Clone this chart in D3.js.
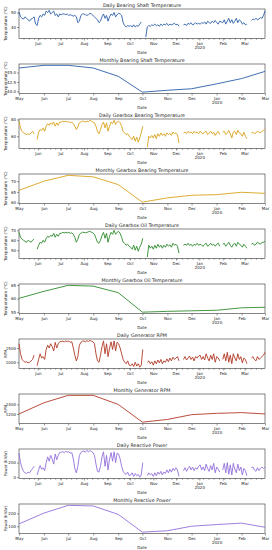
<!DOCTYPE html>
<html>
<head>
<meta charset="utf-8">
<script src="https://cdn.jsdelivr.net/npm/d3@7"></script>
<style>
  body { margin: 0; background: #fff; }
  text { font-family: "DejaVu Sans", sans-serif; fill: #222; }
</style>
</head>
<body>
<div id="chart"></div>
<script>
// daily readings, one value every 2nd day from 2019-05-07 (null = no data)
const dailyStart = "2019-05-07";

const shaftDaily = [
  50.5, 47, 46, 45.5, 47, 46, 45, 44, 45.5, 46, 47, 42, 41,                  // May
  46, 48, 47, 49, 48, 51, 50, 51.5, 49, 50, 51, 48, 49, 47, 49,              // Jun
  48.5, 49, 49, 48.5, 49, 48, 48.5, 48, 47.5, 48, 47, 43, 44, 48, 49,        // Jul
  49, 48.5, 48, 48.5, 49.5, 49, 48, 47, 46, 45, 43, 44, 47, 49, 46, 48,      // Aug
  44, 47, 49, 48, 50, 47, 48.5, 49.5, 49, 48, 43, 41, 40, 41, 40.5,          // Sep
  41, 40, 41.5, 40, 41, 40.5, 42, 43.5, null, null, 33, 40, 41, 40.5, 41.5,  // Oct
  41, 42, 41, 41.5, 40.5, 42, 41, 42, 41.5, 42.5, 41, 42, 41.5, 42, 42.5,    // Nov
  41.5, 42, 40.5, null, null, 41.5, 42, 41, 42.5, 42, 43, 41.5, 42, 43, 42, 42.5, // Dec
  42, 43, 42.5, 43.5, 42, 44, 43, 42.5, 44, 43, 44.5, 43, 42, 44, 43.5,      // Jan
  43, 45, 42, 44, 46, 43, 45, 42.5, 44, 46, 43, 45, 44, 42, 43,              // Feb
  41.5, 42, null, null, 44.5, 45.5, 45, 46, 45, 45.5, 46.5, 46, 48, 51       // Mar
];
const gearBearingDaily = [
  78, 70, 66, 64, 63, 62, 63, 62, 64, 66, 63, null, 56,
  65, 68, 67, 70, 66, 72, 75, 73, 76, 74, 77, 72, 76, 73, 77,
  77, 78, 77.5, 78, 77, 77.5, 76, 77, 75, 72, 68, 71, 76, 77, 78,
  78, 77, 78, 77.5, 79, 78, 77, 76, 72, 66, 63, 68, 74, 77, 70, 76,
  66, 72, 77, 75, 79, 74, 77, 78, 76, 72, 66, 64, 62, 63, 60,
  58, 56, 60, 54, 59, 53, 58, 64, 72, null, null, 47, 60, 58, 61,
  58, 62, 57, 63, 60, 64, 61, 63, 60, 64, 62, 63.5, 61, 65, 63,
  64, 62, 52, null, null, 64, 65, 63, 66, 64, 65, 63, 66, 64, 65, 63,
  66, 64, 63, 65, 66, 62, 64, 66, 63, 65, 61, 64, 66, 62, null,
  65, 66, 62, 64, 67, 63, 58, 65, 66, 62, 67, 64, 63, 60, 65,
  60, 57, null, null, 64, 65, 63, 64, 66, 65, 64, 66, 67, 68
];
const gearOilDaily = [
  68, 63, 61, 60, 59, 58, 60, 59, 58, 60, 61, null, 51,
  55, 58, 57, 60, 58, 62, 64, 63, 65, 64, 67, 63, 66, 64, 67,
  67, 68, 67.5, 68, 67.5, 68, 67, 67.5, 66, 63, 58, 61, 66, 67, 68,
  68, 67.5, 68, 68.5, 69, 68, 67.5, 66, 62, 58, 57, 60, 65, 68, 62, 67,
  58, 64, 68, 66, 70, 66, 68, 69, 67, 63, 58, 57, 55, 56, 54,
  53, 51, 55, 50, 54, 49, 53, 56, 62, null, null, 43, 55, 52, 54,
  51, 55, 52, 56, 53, 55, 52, 55, 53, 56, 54, 55.5, 53, 57, 55,
  56, 54, 47, null, null, 55, 56, 55, 57, 55, 56, 54, 56, 55, 57, 55,
  56, 55, 54, 56, 57, 54, 55, 57, 55, 56, 54, 56, 57, 54, null,
  56, 57, 54, 56, 58, 55, 53, 56, 57, 54, 58, 56, 55, 53, 56,
  54, 52, null, null, 56, 57, 55, 56, 58, 57, 56, 58, 58, 59
];
const rpmDaily = [
  1650, 1300, 1100, 1050, 1000, 1020, 980, 1000, 1050, 1100, 1250, null, 880,
  1100, 1300, 1150, 1200, 1100, 1450, 1600, 1500, 1650, 1550, 1400, 1700, 1500, 1650, 1720,
  1730, 1740, 1720, 1750, 1730, 1740, 1700, 1720, 1500, 1250, 1050, 1200, 1600, 1700, 1740,
  1750, 1720, 1760, 1730, 1770, 1740, 1720, 1650, 1300, 1050, 1000, 1250, 1550, 1750, 1300, 1650,
  1200, 1500, 1720, 1450, 1750, 1400, 1700, 1650, 1500, 1300, 1100, 1000, 950, 1050, 900,
  880, 950, 850, 1000, 870, 950, 830, 900, 1450, null, null, 1000, 1050, 950, 1020,
  900, 1050, 950, 1080, 980, 1100, 950, 1050, 1000, 1120, 1020, 1150, 1050, 1180, 1100,
  1150, 1200, 1050, null, null, 1100, 1200, 1080, 1150, 1220, 1100, 1180, 1050, 1200, 1150, 1220,
  1250, 1100, 1200, 1080, 1300, 1150, 1050, 1250, 1100, 1300, 1000, 1200, 1150, 1050, null,
  1100, 1300, 1050, 1350, 1000, 1250, 950, 1300, 1150, 1050, 1300, 1100, 1200, 980, 1150,
  1100, 950, null, null, 1150, 1200, 1100, 1050, 1200, 1100, 1150, 1200, 1250, 1350
];
const reactiveDaily = [
  330, 200, 130, 80, 60, 50, 70, 60, 90, 120, 150, null, 30,
  100, 160, 110, 130, 90, 200, 280, 220, 300, 250, 180, 320, 240, 300, 340,
  345, 350, 340, 355, 345, 350, 330, 340, 250, 120, 60, 150, 300, 340, 355,
  360, 345, 370, 350, 365, 355, 340, 300, 180, 80, 70, 150, 280, 350, 150, 300,
  100, 250, 340, 220, 350, 200, 330, 320, 250, 150, 80, 50, 40, 70, 20,
  30, 60, 10, 50, 20, 40, 0, 30, 200, null, null, 20, 60, 30, 50,
  10, 60, 20, 70, 40, 80, 30, 70, 50, 100, 60, 110, 70, 120, 90,
  130, 100, 10, null, null, 90, 130, 80, 120, 150, 100, 140, 90, 130, 110, 150,
  170, 100, 140, 90, 180, 120, 80, 160, 100, 190, 60, 140, 110, 70, null,
  100, 190, 60, 200, 40, 170, 30, 190, 110, 60, 180, 90, 140, 30, 120,
  90, 20, null, null, 130, 140, 100, 80, 130, 90, 120, 140, 120, 140
];

// monthly means
const months = ["2019-05-01", "2019-06-01", "2019-07-01", "2019-08-01", "2019-09-01", "2019-10-01",
                "2019-11-01", "2019-12-01", "2020-01-01", "2020-02-01", "2020-03-01"];
const shaftMonthly = [46.2, 46.9, 46.9, 46.2, 44.0, 39.8, 40.3, 40.7, 42.0, 43.4, 45.3];
const gearBearingMonthly = [65.7, 70.0, 72.7, 72.0, 68.4, 60.2, 62.2, 63.4, 63.7, 64.8, 64.3];
const gearOilMonthly = [60.1, 62.7, 64.9, 64.6, 62.2, 55.0, 55.3, 55.5, 55.7, 56.6, 56.8];
const rpmMonthly = [1200, 1435, 1590, 1590, 1400, 1028, 1085, 1185, 1213, 1228, 1200];
const reactiveMonthly = [118, 202, 262, 257, 192, 54, 65, 100, 113, 124, 92];

// y tick labels per panel
const yTicks = [[40, 50], [40.0, 42.5, 45.0], [60, 80], [60, 65, 70], [50, 60, 70],
                [55, 60, 65], [1000, 1500], [1200, 1400], [0, 200], [100, 200]];

const parse = d3.timeParse("%Y-%m-%d");
const startDate = parse(dailyStart);
const monthDates = months.map(parse);

const panels = [
  { title: "Daily Bearing Shaft Temperature", values: shaftDaily, daily: true, ylabel: "Temperature (°C)", color: "#2b5fa8" },
  { title: "Monthly Bearing Shaft Temperature", values: shaftMonthly, daily: false, ylabel: "Temperature (°C)", color: "#2b5fa8", fmt: ".1f" },
  { title: "Daily Gearbox Bearing Temperature", values: gearBearingDaily, daily: true, ylabel: "Temperature (°C)", color: "#d9a21b" },
  { title: "Monthly Gearbox Bearing Temperature", values: gearBearingMonthly, daily: false, ylabel: "Temperature (°C)", color: "#d9a21b" },
  { title: "Daily Gearbox Oil Temperature", values: gearOilDaily, daily: true, ylabel: "Temperature (°C)", color: "#2e8b2e" },
  { title: "Monthly Gearbox Oil Temperature", values: gearOilMonthly, daily: false, ylabel: "Temperature (°C)", color: "#2e8b2e" },
  { title: "Daily Generator RPM", values: rpmDaily, daily: true, ylabel: "RPM", color: "#b23a26" },
  { title: "Monthly Generator RPM", values: rpmMonthly, daily: false, ylabel: "RPM", color: "#b23a26" },
  { title: "Daily Reactive Power", values: reactiveDaily, daily: true, ylabel: "Power (kVAr)", color: "#9370db" },
  { title: "Monthly Reactive Power", values: reactiveMonthly, daily: false, ylabel: "Power (kVAr)", color: "#9370db" }
];

const W = 272, H = 550;
const left = 19, right = 265, top0 = 9, step = 55, ph = 29.5;

const svg = d3.select("#chart").append("svg")
  .attr("width", W).attr("height", H);

const fmtMonth = d3.timeFormat("%b");

panels.forEach((p, k) => {
  const top = top0 + k * step, bottom = top + ph;
  const pts = p.values.map((v, i) => ({
    date: p.daily ? d3.timeDay.offset(startDate, 2 * i) : monthDates[i],
    v: v
  }));

  const x = d3.scaleTime()
    .domain(d3.extent(pts, d => d.date))
    .range([left, right]);

  const ext = d3.extent(p.values.filter(v => v != null));
  const pad = (ext[1] - ext[0]) * 0.05;
  const y = d3.scaleLinear()
    .domain([ext[0] - pad, ext[1] + pad])
    .range([bottom, top]);

  const g = svg.append("g");

  // month ticks
  const majors = d3.timeMonth.range(d3.timeMonth.ceil(x.domain()[0]), d3.timeDay.offset(x.domain()[1], 1));
  const xAxis = d3.axisBottom(x).tickValues(majors).tickSize(2).tickPadding(1.5)
    .tickFormat(d => fmtMonth(d));
  const xg = g.append("g").attr("transform", `translate(0,${bottom})`).call(xAxis);
  xg.selectAll("text").style("font-size", "4px");
  xg.selectAll("text")
    .filter(d => d.getMonth() === 0)
    .append("tspan").attr("x", 0).attr("dy", "1.05em").text(d => d.getFullYear());

  if (p.daily) {
    const minors = d3.timeMonday.range(x.domain()[0], x.domain()[1]);
    g.append("g").attr("transform", `translate(0,${bottom})`)
      .call(d3.axisBottom(x).tickValues(minors).tickSize(1.2).tickFormat(""))
      .call(a => a.select(".domain").remove());
  }

  const yAxis = d3.axisLeft(y).tickValues(yTicks[k]).tickSize(2).tickPadding(1)
    .tickFormat(p.fmt ? d3.format(p.fmt) : d3.format("d"));
  const yg = g.append("g").attr("transform", `translate(${left},0)`).call(yAxis);
  yg.selectAll("text").style("font-size", "4px");
  yg.select(".domain").remove();

  g.selectAll(".domain").remove();
  g.selectAll(".tick line").attr("stroke", "#333").attr("stroke-width", 0.5);

  // frame
  g.append("rect")
    .attr("x", left).attr("y", top)
    .attr("width", right - left).attr("height", ph)
    .attr("fill", "none").attr("stroke", "#333").attr("stroke-width", 0.6);

  const line = d3.line()
    .defined(d => d.v != null)
    .x(d => x(d.date))
    .y(d => y(d.v));

  g.append("path")
    .datum(pts)
    .attr("fill", "none")
    .attr("stroke", p.color)
    .attr("stroke-width", 0.9)
    .attr("stroke-linejoin", "round")
    .attr("d", line);

  g.append("text")
    .attr("x", (left + right) / 2).attr("y", top - 2.3)
    .attr("text-anchor", "middle")
    .style("font-size", "4.8px")
    .text(p.title);

  g.append("text")
    .attr("x", (left + right) / 2).attr("y", bottom + 15)
    .attr("text-anchor", "middle")
    .style("font-size", "4px")
    .text("Date");

  g.append("text")
    .attr("transform", `translate(6.5,${(top + bottom) / 2}) rotate(-90)`)
    .attr("text-anchor", "middle")
    .style("font-size", "4px")
    .text(p.ylabel);
});
</script>
</body>
</html>
